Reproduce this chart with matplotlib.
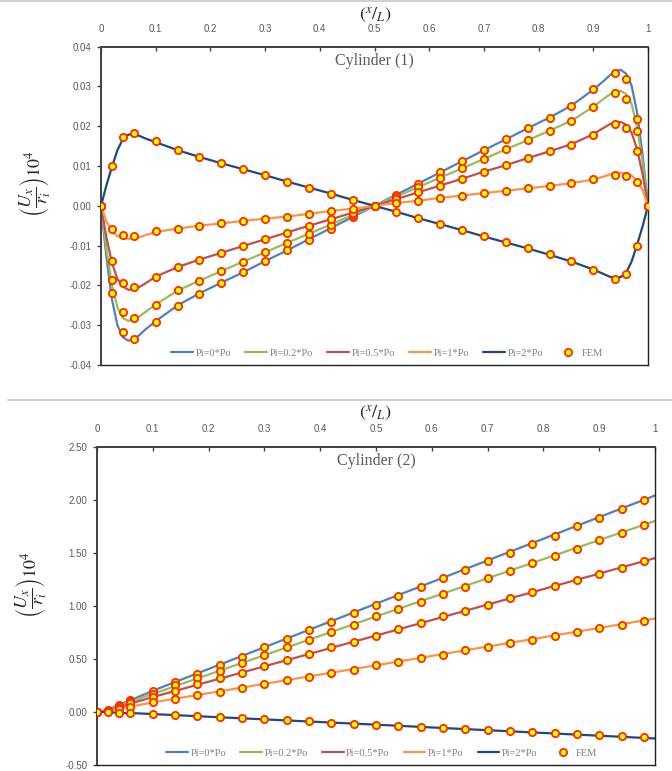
import matplotlib
matplotlib.use("Agg")
import matplotlib.pyplot as plt
from matplotlib.lines import Line2D
from matplotlib.ticker import FixedLocator, FuncFormatter

# ---------------- data: Cylinder (1) ----------------
series_labels = ["Pi=0*Po", "Pi=0.2*Po", "Pi=0.5*Po", "Pi=1*Po", "Pi=2*Po"]
series_colors = ["#4F81BD", "#9BBB59", "#C0504D", "#F79646", "#1F497D"]

x_line1 = [0, 0.01, 0.02, 0.03, 0.04, 0.05, 0.06, 0.07, 0.08, 0.10, 0.14, 0.18, 0.22,
           0.26, 0.30, 0.34, 0.38, 0.42, 0.46, 0.50, 0.54, 0.58, 0.62, 0.66, 0.70,
           0.74, 0.78, 0.82, 0.86, 0.90, 0.92, 0.93, 0.94, 0.95, 0.96, 0.97, 0.98,
           0.99, 1.0]
line1_pi0 = [0, -0.0130, -0.0235, -0.0300, -0.0330, -0.0339, -0.0335, -0.0325, -0.0312,
             -0.0290, -0.0250, -0.0220, -0.0193, -0.0167, -0.0139, -0.0112, -0.0084,
             -0.0056, -0.0028, 0.0, 0.0028, 0.0056, 0.0084, 0.0112, 0.0140, 0.0167,
             0.0195, 0.0222, 0.0252, 0.0292, 0.0315, 0.0328, 0.0338, 0.0342, 0.0332,
             0.0302, 0.0235, 0.0130, 0.0]
line1_pi02 = [0, -0.0110, -0.0198, -0.0255, -0.0282, -0.0289, -0.0286, -0.0278, -0.0268,
              -0.0248, -0.0213, -0.0188, -0.0164, -0.0140, -0.0117, -0.0093, -0.0070,
              -0.0047, -0.0023, 0.0, 0.0024, 0.0047, 0.0071, 0.0094, 0.0118, 0.0142,
              0.0165, 0.0189, 0.0214, 0.0249, 0.0270, 0.0280, 0.0287, 0.0289, 0.0281,
              0.0256, 0.0198, 0.0110, 0.0]
line1_pi05 = [0, -0.0080, -0.0143, -0.0184, -0.0203, -0.0211, -0.0210, -0.0204, -0.0196,
              -0.0178, -0.0154, -0.0135, -0.0118, -0.0101, -0.0084, -0.0067, -0.0050,
              -0.0034, -0.0017, 0.0, 0.0017, 0.0034, 0.0051, 0.0068, 0.0086, 0.0102,
              0.0120, 0.0137, 0.0155, 0.0180, 0.0197, 0.0205, 0.0210, 0.0211, 0.0204,
              0.0184, 0.0143, 0.0080, 0.0]
line1_pi1 = [0, -0.0040, -0.0063, -0.0076, -0.0081, -0.0083, -0.0082, -0.0079, -0.0074,
             -0.0066, -0.0057, -0.0050, -0.0044, -0.0038, -0.0032, -0.0027, -0.0020,
             -0.0013, -0.0007, 0.0, 0.0007, 0.0013, 0.0020, 0.0026, 0.0032, 0.0038,
             0.0044, 0.0050, 0.0057, 0.0066, 0.0074, 0.0079, 0.0082, 0.0083, 0.0081,
             0.0076, 0.0063, 0.0040, 0.0]
line1_pi2 = [0, 0.0052, 0.0098, 0.0140, 0.0168, 0.0179, 0.0180, 0.0176, 0.0170, 0.0160,
             0.0140, 0.0123, 0.0107, 0.0092, 0.0077, 0.0061, 0.0046, 0.0031, 0.0015,
             0.0, -0.0015, -0.0031, -0.0046, -0.0061, -0.0077, -0.0092, -0.0107,
             -0.0123, -0.0140, -0.0160, -0.0172, -0.0178, -0.0181, -0.0179, -0.0168,
             -0.0140, -0.0098, -0.0052, 0.0]

x_fem1 = [0, 0.02, 0.04, 0.06, 0.10, 0.14, 0.18, 0.22, 0.26, 0.30, 0.34, 0.38, 0.42,
          0.46, 0.50, 0.54, 0.58, 0.62, 0.66, 0.70, 0.74, 0.78, 0.82, 0.86, 0.90, 0.94,
          0.96, 0.98, 1.0]
fem1_pi0 = [0, -0.0218, -0.0316, -0.0334, -0.0293, -0.0252, -0.0222, -0.0193, -0.0167,
            -0.0139, -0.0112, -0.0085, -0.0057, -0.0028, 0.0, 0.0028, 0.0056, 0.0084,
            0.0112, 0.0140, 0.0168, 0.0196, 0.0222, 0.0252, 0.0293, 0.0334, 0.0318,
            0.0219, 0.0]
fem1_pi02 = [0, -0.0186, -0.0268, -0.0283, -0.0248, -0.0212, -0.0189, -0.0164, -0.0140,
             -0.0117, -0.0093, -0.0070, -0.0047, -0.0023, 0.0, 0.0023, 0.0047, 0.0070,
             0.0094, 0.0118, 0.0143, 0.0165, 0.0188, 0.0213, 0.0248, 0.0283, 0.0268,
             0.0188, 0.0]
fem1_pi05 = [0, -0.0138, -0.0194, -0.0205, -0.0178, -0.0154, -0.0135, -0.0118, -0.0102,
             -0.0083, -0.0067, -0.0050, -0.0034, -0.0017, 0.0, 0.0017, 0.0034, 0.0051,
             0.0068, 0.0086, 0.0102, 0.0120, 0.0137, 0.0154, 0.0179, 0.0205, 0.0195,
             0.0139, 0.0]
fem1_pi1 = [0, -0.0058, -0.0073, -0.0075, -0.0064, -0.0057, -0.0050, -0.0043, -0.0038,
            -0.0032, -0.0027, -0.0020, -0.0013, -0.0007, 0.0, 0.0007, 0.0013, 0.0020,
            0.0026, 0.0032, 0.0037, 0.0045, 0.0050, 0.0057, 0.0067, 0.0077, 0.0074,
            0.0060, 0.0]
fem1_pi2 = [0, 0.0100, 0.0172, 0.0183, 0.0162, 0.0140, 0.0122, 0.0107, 0.0092, 0.0077,
            0.0061, 0.0046, 0.0031, 0.0015, 0.0, -0.0015, -0.0031, -0.0046, -0.0061,
            -0.0077, -0.0091, -0.0107, -0.0122, -0.0138, -0.0161, -0.0183, -0.0171,
            -0.0101, 0.0]

# ---------------- data: Cylinder (2) ----------------
x_line2 = [0, 0.02, 0.04, 0.06, 0.10, 0.50, 1.0]
line2_pi0 = [0, 0.02, 0.07, 0.11, 0.20, 1.02, 2.04]
line2_pi02 = [0, 0.01, 0.06, 0.10, 0.17, 0.90, 1.80]
line2_pi05 = [0, 0.01, 0.04, 0.08, 0.14, 0.72, 1.45]
line2_pi1 = [0, 0.01, 0.03, 0.05, 0.09, 0.44, 0.88]
line2_pi2 = [0, 0.00, -0.01, -0.01, -0.02, -0.12, -0.25]

x_fem2 = [0, 0.02, 0.04, 0.06, 0.10, 0.14, 0.18, 0.22, 0.26, 0.30, 0.34, 0.38, 0.42,
          0.46, 0.50, 0.54, 0.58, 0.62, 0.66, 0.70, 0.74, 0.78, 0.82, 0.86, 0.90, 0.94,
          0.98]
fem2_pi0 = [0, 0.02, 0.07, 0.11, 0.20, 0.28, 0.36, 0.44, 0.52, 0.61, 0.69, 0.77, 0.85,
            0.93, 1.01, 1.09, 1.18, 1.26, 1.34, 1.42, 1.50, 1.58, 1.66, 1.75, 1.83, 1.91,
            2.00]
fem2_pi02 = [0, 0.01, 0.06, 0.10, 0.17, 0.25, 0.32, 0.39, 0.46, 0.54, 0.61, 0.68, 0.75,
             0.82, 0.90, 0.97, 1.04, 1.11, 1.18, 1.26, 1.33, 1.40, 1.47, 1.54, 1.62,
             1.69, 1.76]
fem2_pi05 = [0, 0.01, 0.04, 0.08, 0.14, 0.20, 0.26, 0.32, 0.37, 0.43, 0.49, 0.55, 0.61,
             0.66, 0.72, 0.78, 0.84, 0.90, 0.95, 1.01, 1.07, 1.13, 1.19, 1.24, 1.30,
             1.36, 1.42]
fem2_pi1 = [0, 0.01, 0.03, 0.05, 0.09, 0.12, 0.16, 0.19, 0.23, 0.26, 0.30, 0.33, 0.37,
            0.40, 0.44, 0.47, 0.51, 0.54, 0.58, 0.61, 0.65, 0.68, 0.72, 0.75, 0.79, 0.82,
            0.86]
fem2_pi2 = [0, 0.00, -0.01, -0.01, -0.02, -0.03, -0.04, -0.05, -0.06, -0.07, -0.08,
            -0.09, -0.10, -0.11, -0.12, -0.13, -0.14, -0.15, -0.16, -0.17, -0.18, -0.19,
            -0.20, -0.21, -0.22, -0.23, -0.24]

x_ticks = [0, 0.1, 0.2, 0.3, 0.4, 0.5, 0.6, 0.7, 0.8, 0.9, 1.0]
x_tick_labels = ["0", "0.1", "0.2", "0.3", "0.4", "0.5", "0.6", "0.7", "0.8", "0.9", "1"]
y_ticks1 = [-0.04, -0.03, -0.02, -0.01, 0.0, 0.01, 0.02, 0.03, 0.04]
y_ticks2 = [-0.50, 0.0, 0.50, 1.00, 1.50, 2.00, 2.50]
titles = ["Cylinder (1)", "Cylinder (2)"]

# ---------------- drawing ----------------
TICK_GRAY = "#595959"
SPINE = "#404040"
SANS = ["Liberation Sans", "DejaVu Sans"]
SERIF = ["Liberation Serif", "DejaVu Serif"]
plt.rcParams["mathtext.fontset"] = "stix"

fig = plt.figure(figsize=(6.72, 7.71), dpi=100)
W, H = 672.0, 771.0

def make_axes(px_left, px_right, px_top, px_bottom):
    return fig.add_axes([px_left / W, 1 - px_bottom / H,
                         (px_right - px_left) / W, (px_bottom - px_top) / H])

ax1 = make_axes(101, 648, 46.7, 365)
ax2 = make_axes(97, 655, 446.7, 765)

def draw(ax, xl, lines, xf, fems, yticks, ylim, title, fmt, leg_x):
    for vals, c, lab in zip(lines, series_colors, series_labels):
        ax.plot(xl, vals, color=c, lw=1.6, label=lab, zorder=2, solid_capstyle="round")
    for i, vals in enumerate(fems):
        ax.plot(xf, vals, ls="none", marker="o", ms=5.2, mfc="#FFFF00", mec="#FF2A00",
                mew=1.3, zorder=3, label="FEM" if i == 0 else None)
    ax.set_xlim(0, 1)
    ax.set_ylim(*ylim)
    ax.xaxis.set_major_locator(FixedLocator(x_ticks))
    ax.set_xticklabels(x_tick_labels)
    ax.xaxis.tick_top()
    ax.yaxis.set_major_locator(FixedLocator(yticks))
    ax.yaxis.set_major_formatter(FuncFormatter(fmt))
    ax.tick_params(axis="x", direction="in", length=3, width=1, color=SPINE,
                   labelsize=7, labelcolor=TICK_GRAY, pad=9)
    ax.tick_params(axis="y", direction="out", length=3, width=1, color=SPINE,
                   labelsize=7, labelcolor=TICK_GRAY, pad=4)
    for lab in ax.get_xticklabels() + ax.get_yticklabels():
        lab.set_family(SANS)
    for s in ["left", "top"]:
        ax.spines[s].set_color(SPINE)
        ax.spines[s].set_linewidth(1.4)
    for s in ["right", "bottom"]:
        ax.spines[s].set_color("#222222")
        ax.spines[s].set_linewidth(1.0)
    ax.text(0.5, 0.955, title, transform=ax.transAxes, ha="center", va="center",
            fontsize=11.5, color=TICK_GRAY, family=SERIF)
    leg = ax.legend(loc="lower center", bbox_to_anchor=(leg_x, 0.0), ncol=6,
                    frameon=False, fontsize=7.5, handlelength=2.1, handletextpad=0.25,
                    columnspacing=1.35, borderaxespad=0.3)
    for t in leg.get_texts():
        t.set_color("#7F7F7F")
        t.set_family(SERIF)

draw(ax1, x_line1, [line1_pi0, line1_pi02, line1_pi05, line1_pi1, line1_pi2],
     x_fem1, [fem1_pi0, fem1_pi02, fem1_pi05, fem1_pi1, fem1_pi2],
     y_ticks1, (-0.04, 0.04), titles[0], lambda v, p: f"{v:.2f}", 0.523)
draw(ax2, x_line2, [line2_pi0, line2_pi02, line2_pi05, line2_pi1, line2_pi2],
     x_fem2, [fem2_pi0, fem2_pi02, fem2_pi05, fem2_pi1, fem2_pi2],
     y_ticks2, (-0.5, 2.5), titles[1], lambda v, p: f"{v:.2f}", 0.51)

# axis titles
for yc_top in [15, 413]:
    fig.text(376 / W, 1 - yc_top / H, r"$\left(^{x}/_{L}\right)$", ha="center",
             va="center", fontsize=13, color="#262626")
# y-axis label, rotated
for px, py in [(35, 184), (30, 585)]:
    fig.text(px / W, 1 - py / H, r"$\left(\dfrac{U_x}{r_i}\right)10^4$", rotation=90,
             ha="center", va="center", fontsize=13, color="#262626")

# separator rules
fig.add_artist(Line2D([0, 1], [1 - 0.8 / H, 1 - 0.8 / H], color="#C8C8C8", lw=1.2))
fig.add_artist(Line2D([8 / W, 1], [1 - 400 / H, 1 - 400 / H], color="#C8C8C8", lw=1.2))

fig.savefig("out.png", dpi=100)
